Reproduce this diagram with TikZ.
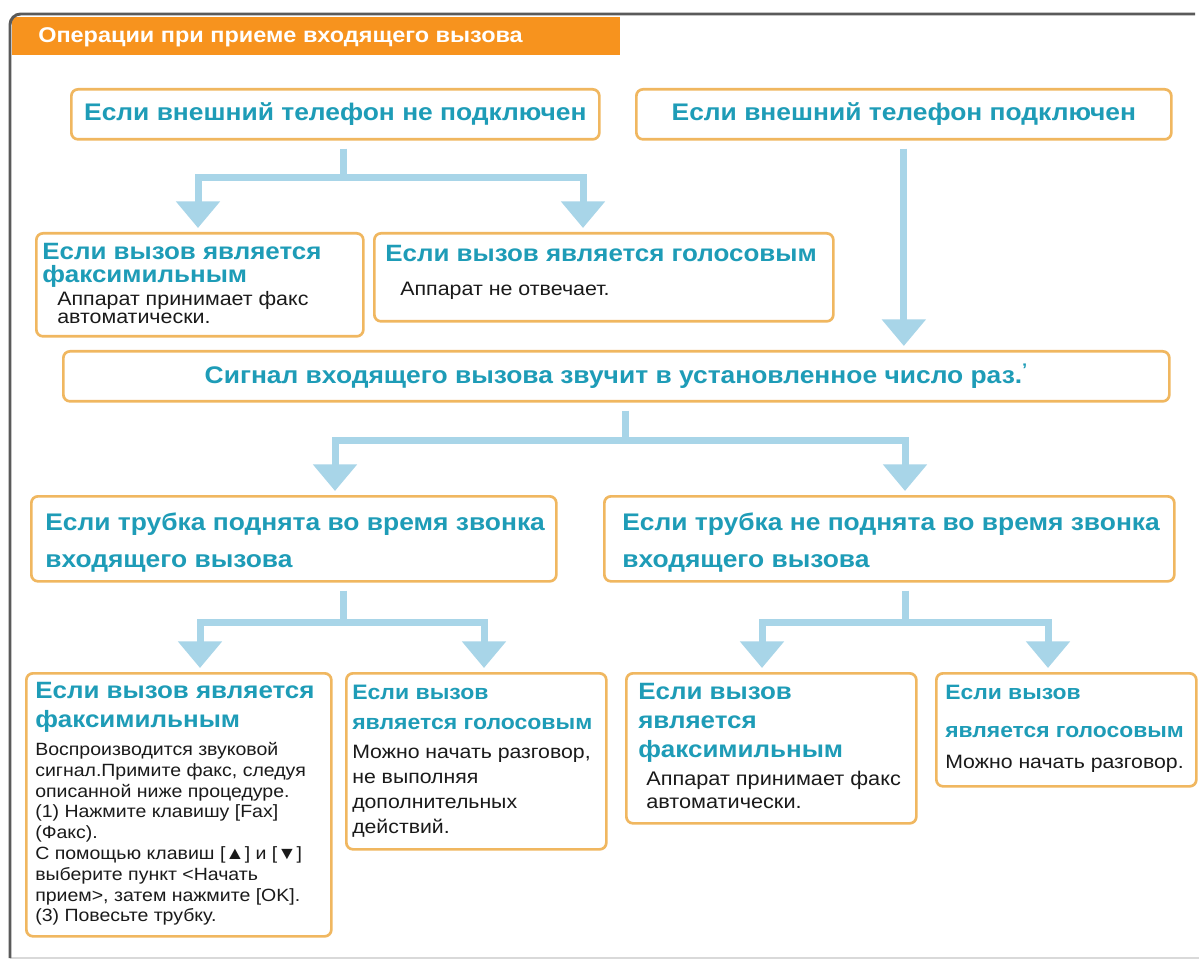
\documentclass[tikz,border=0pt]{standalone}
\usepackage{fontspec}
\setmainfont[FakeStretch=1.1]{Liberation Sans}
\usetikzlibrary{arrows.meta,calc}
\definecolor{hd}{HTML}{1E9CB7}
\definecolor{brd}{HTML}{F0B760}
\definecolor{flowc}{HTML}{A8D5E8}
\definecolor{orng}{HTML}{F7931E}
\definecolor{frm}{HTML}{5A5A5A}
\definecolor{bodyc}{HTML}{1A1A1A}
\begin{document}
\begin{tikzpicture}[x=0.75pt,y=-0.75pt,
 box/.style={draw=brd, line width=2pt, rounded corners=5pt, fill=white, anchor=north west, inner sep=0pt},
 hdt/.style={text=hd, anchor=north west, inner sep=0pt, align=left},
 bdt/.style={text=bodyc, anchor=north west, inner sep=0pt, align=left},
 flow/.style={draw=flowc, line width=5.25pt, shorten <=6pt},
 flowarrow/.style={flow, shorten <=0pt, shorten >=3pt, -{Triangle[width=32pt,length=20pt]}},
]
\useasboundingbox[fill=white] (0,0) rectangle (1199,962);
% frame
\draw[black!15, line width=1pt] (10,958) -- (1199,958);
\fill[orng] (12,17) rectangle (620,55);
\draw[frm, line width=2.2pt, rounded corners=8pt] (10,958) -- (10,14) -- (1195,14);
\node[anchor=west, inner sep=0pt, text=white, font=\bfseries\fontsize{16}{18}\selectfont] (title) at (38,37) {Операции при приеме входящего вызова};

% level 1
\node[box, minimum width=396pt, minimum height=37.5pt, text=hd, font=\bfseries\fontsize{18}{20}\selectfont] (bA) at (70,88) {Если внешний телефон не подключен};
\node[box, minimum width=401.25pt, minimum height=37.5pt, text=hd, font=\bfseries\fontsize{18}{20}\selectfont] (bB) at (635,88) {Если внешний телефон подключен};

% level 2
\node[box, minimum width=245.25pt, minimum height=77.25pt] (bC) at (35,232) {};
\node[hdt, font=\bfseries\fontsize{17.7}{17.25}\selectfont] (tC) at (42,243) {Если вызов является\\факсимильным};
\node[bdt, font=\fontsize{14.6}{13.5}\selectfont] (sC) at (57,291) {Аппарат принимает факс\\автоматически.};

\node[box, minimum width=344.25pt, minimum height=66pt] (bD) at (373,232) {};
\node[hdt, font=\bfseries\fontsize{17.7}{17.25}\selectfont] (tD) at (385,245) {Если вызов является голосовым};
\node[bdt, font=\fontsize{14.6}{13.5}\selectfont] (sD) at (400,282) {Аппарат не отвечает.};

% level 3
\node[box, minimum width=829.5pt, minimum height=37.5pt, text=hd, font=\bfseries\fontsize{18}{20}\selectfont] (bE) at (62,350) {Сигнал входящего вызова звучит в установленное число раз.\textsuperscript{'}};

% level 4
\node[box, minimum width=393.75pt, minimum height=63.75pt] (bF) at (30,495) {};
\node[hdt, font=\bfseries\fontsize{18}{27.75}\selectfont] (tF) at (45,513) {Если трубка поднята во время звонка\\входящего вызова};
\node[box, minimum width=427.5pt, minimum height=63.75pt] (bG) at (603,495) {};
\node[hdt, font=\bfseries\fontsize{18}{27.75}\selectfont] (tG) at (622,513) {Если трубка не поднята во время звонка\\входящего вызова};

% level 5
\node[box, minimum width=228.75pt, minimum height=197.25pt] (bH) at (25,672) {};
\node[hdt, font=\bfseries\fontsize{17.7}{21.75}\selectfont] (tH) at (35,682) {Если вызов является\\факсимильным};
\node[bdt, font=\fontsize{13.3}{15.6}\selectfont] (sH) at (35,742) {Воспроизводится звуковой\\сигнал.Примите факс, следуя\\описанной ниже процедуре.\\(1) Нажмите клавишу [Fax]\\(Факс).\\С помощью клавиш [▲] и [▼]\\выберите пункт <Начать\\прием>, затем нажмите [OK].\\(3) Повесьте трубку.};

\node[box, minimum width=195pt, minimum height=132pt] (bI) at (345,672) {};
\node[hdt, font=\bfseries\fontsize{15.7}{22.5}\selectfont] (tI) at (352,685) {Если вызов\\является голосовым};
\node[bdt, font=\fontsize{14.5}{18.75}\selectfont] (sI) at (352,745) {Можно начать разговор,\\не выполняя\\дополнительных\\действий.};

\node[box, minimum width=217.5pt, minimum height=112.5pt] (bJ) at (625,672) {};
\node[hdt, font=\bfseries\fontsize{17.7}{21.75}\selectfont] (tJ) at (638,683) {Если вызов\\является\\факсимильным};
\node[bdt, font=\fontsize{14.8}{17.25}\selectfont] (sJ) at (646,771) {Аппарат принимает факс\\автоматически.};

\node[box, minimum width=195pt, minimum height=84.75pt] (bK) at (935,672) {};
\node[hdt, font=\bfseries\fontsize{15.6}{28.5}\selectfont] (tK) at (945,685) {Если вызов\\является голосовым};
\node[bdt, font=\fontsize{14.5}{15}\selectfont] (sK) at (945,755) {Можно начать разговор.};

% connectors
\coordinate (jA) at (343,178);
\coordinate (xC) at (198,0);
\coordinate (xD) at (583,0);
\draw[flow] (jA |- bA.south) -- (jA);
\draw[flowarrow] (jA) -| (xC |- bC.north);
\draw[flowarrow] (jA) -| (xD |- bD.north);

\draw[flowarrow, shorten <=6pt] (bB.south) -- (bB.south |- bE.north);

\coordinate (jE) at (625,440);
\coordinate (xF) at (335,0);
\coordinate (xG) at (905,0);
\draw[flow] (jE |- bE.south) -- (jE);
\draw[flowarrow] (jE) -| (xF |- bF.north);
\draw[flowarrow] (jE) -| (xG |- bG.north);

\coordinate (jF) at (343,622);
\coordinate (xH) at (200,0);
\coordinate (xI) at (484,0);
\draw[flow] (jF |- bF.south) -- (jF);
\draw[flowarrow] (jF) -| (xH |- bH.north);
\draw[flowarrow] (jF) -| (xI |- bI.north);

\coordinate (jG) at (905,622);
\coordinate (xJ) at (762,0);
\coordinate (xK) at (1048,0);
\draw[flow] (jG |- bG.south) -- (jG);
\draw[flowarrow] (jG) -| (xJ |- bJ.north);
\draw[flowarrow] (jG) -| (xK |- bK.north);
\end{tikzpicture}
\end{document}
